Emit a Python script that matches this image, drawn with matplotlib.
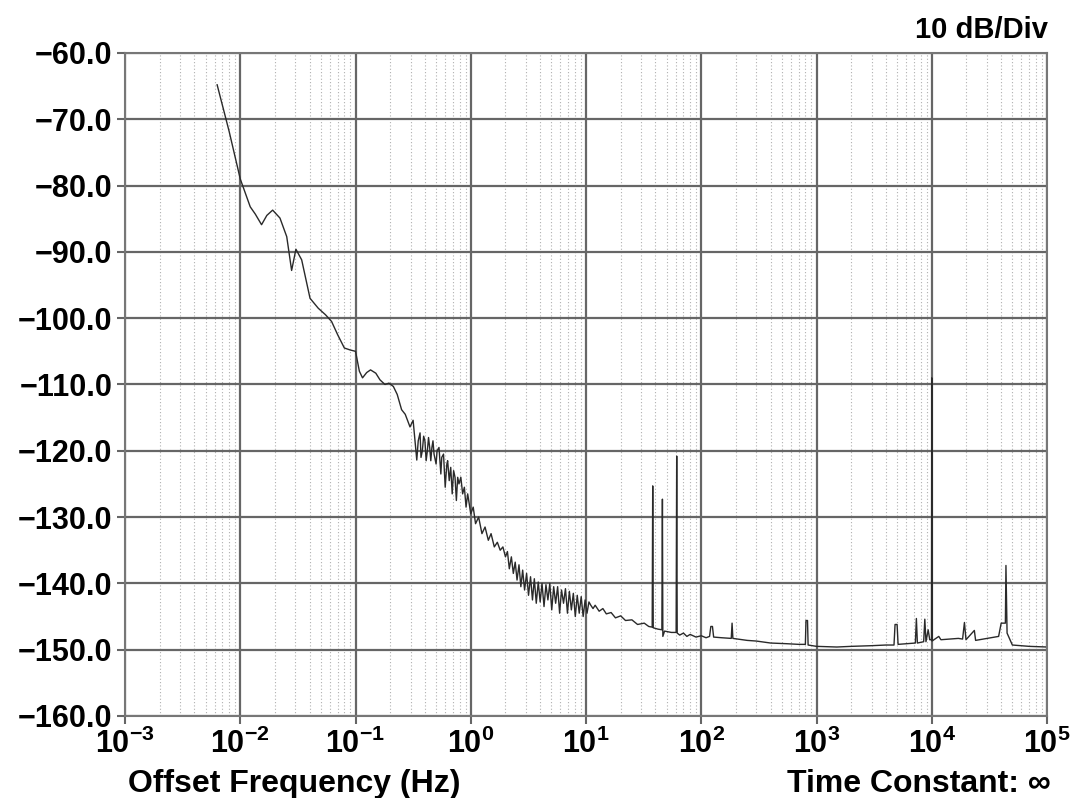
import matplotlib
matplotlib.use("Agg")
import matplotlib.pyplot as plt
from matplotlib.ticker import LogLocator, FixedLocator, FixedFormatter, NullFormatter

plt.rcParams['font.family'] = ['Liberation Sans', 'DejaVu Sans']
plt.rcParams['font.weight'] = 'bold'
plt.rcParams['mathtext.fontset'] = 'custom'
plt.rcParams['mathtext.rm'] = 'Liberation Sans:bold'
plt.rcParams['mathtext.it'] = 'Liberation Sans:bold'
plt.rcParams['mathtext.bf'] = 'Liberation Sans:bold'

# offset frequency (Hz) and phase noise level (dBc/Hz)
freq_hz = [
    0.0063, 0.0080, 0.0100, 0.0122, 0.0135, 0.0153, 0.0170, 0.0191, 0.0221, 0.0253,
    0.0279, 0.0304, 0.0341, 0.0403, 0.0475, 0.055, 0.062, 0.070, 0.080, 0.090,
    0.100, 0.108, 0.115, 0.125, 0.135, 0.150, 0.163, 0.180, 0.195, 0.213,
    0.230, 0.251, 0.270, 0.297, 0.316,
    0.34, 0.35, 0.363, 0.37, 0.38, 0.39, 0.40, 0.41, 0.42, 0.43,
    0.44, 0.45, 0.46, 0.47, 0.48, 0.50, 0.51, 0.53, 0.55, 0.56,
    0.58, 0.60, 0.62, 0.63, 0.65, 0.67, 0.69, 0.71, 0.73, 0.75,
    0.77, 0.79, 0.82, 0.85, 0.88, 0.91, 0.94, 0.97, 1.00, 1.05,
    1.10, 1.17, 1.25, 1.33, 1.42, 1.50, 1.60, 1.70, 1.80, 1.90,
    2.00, 2.08, 2.16, 2.25, 2.34, 2.43, 2.52, 2.62, 2.72, 2.82,
    2.93, 3.05, 3.17, 3.30, 3.43, 3.56, 3.70, 3.85, 4.00, 4.15,
    4.32, 4.49, 4.67, 4.85, 5.04, 5.24, 5.45, 5.67, 5.90, 6.13,
    6.38, 6.63, 6.90, 7.17, 7.46, 7.76, 8.07, 8.39, 8.73, 9.08,
    9.44, 9.82, 10.2, 10.6, 11.0, 11.5, 12.0, 13.0, 14.0, 15.0,
    16.5, 18.0, 20.0, 22.0, 25.0, 28.0, 32.0, 35.0, 37.5, 37.9,
    38.3, 42.0, 45.5, 46.0, 46.4, 48.0, 55.0, 60.5, 61.2, 61.8,
    65.0, 70.0, 75.0, 80.0, 90.0, 100.0, 110.0, 118.0, 121.0, 125.0,
    128.0, 150.0, 182.0, 185.0, 188.0, 250.0, 300.0, 400.0, 550.0, 700.0,
    800.0, 810.0, 835.0, 845.0, 1000.0, 1500.0, 2000.0, 3000.0, 4000.0, 4700.0,
    4800.0, 5000.0, 5100.0, 6000.0, 7200.0, 7350.0, 7500.0, 8500.0, 8700.0, 8900.0,
    9300.0, 9600.0, 9950.0, 10000.0, 10050.0, 11500.0, 12000.0, 17000.0, 18500.0, 19200.0,
    19800.0, 23400.0, 24000.0, 38000.0, 40000.0, 43500.0, 44000.0, 45000.0, 50000.0, 70000.0,
    100000.0,
]
level_dbc = [
    -64.8, -71.8, -79.0, -83.2, -84.3, -85.9, -84.5, -83.7, -84.9, -87.7,
    -92.8, -89.6, -91.2, -97.0, -98.5, -99.5, -100.5, -102.5, -104.5, -104.8,
    -105.0, -108.0, -109.0, -108.2, -107.8, -108.3, -109.3, -110.0, -109.8, -110.3,
    -111.5, -113.8, -114.5, -116.4, -115.4,
    -121.4, -118.5, -117.3, -121.0, -120.0, -117.8, -118.5, -121.5, -120.0, -118.0,
    -119.5, -121.5, -119.5, -118.5, -120.5, -122.0, -120.0, -119.5, -123.5, -121.0,
    -120.5, -125.5, -122.0, -121.5, -124.5, -122.5, -126.5, -123.0, -124.0, -127.5,
    -124.0, -125.0, -124.0, -126.5, -125.5, -128.5, -126.5, -128.0, -129.5, -128.5,
    -131.0, -130.0, -132.5, -131.5, -133.5, -132.5, -134.5, -133.8, -135.0, -134.5,
    -136.0, -135.2, -137.8, -136.0, -138.5, -136.8, -139.5, -137.2, -140.5, -138.0,
    -141.0, -138.5, -141.8, -139.0, -142.5, -139.3, -143.0, -139.8, -142.8, -140.0,
    -143.5, -140.2, -142.5, -140.0, -144.0, -140.5, -143.0, -140.5, -144.5, -141.0,
    -143.0, -140.8, -144.5, -141.2, -144.0, -141.5, -145.0, -141.8, -144.5, -142.0,
    -145.0, -142.5, -144.5, -142.8, -143.3, -143.8, -143.3, -144.2, -143.8, -144.6,
    -144.4, -145.2, -144.9, -145.6, -145.5, -146.2, -146.0, -146.5, -146.6, -125.3,
    -146.7, -146.9, -147.0, -127.3, -148.0, -147.2, -147.4, -147.4, -120.8, -147.5,
    -147.8, -147.5, -148.0, -147.7, -148.1, -147.9, -148.2, -148.0, -146.5, -146.5,
    -148.1, -148.2, -148.3, -146.0, -148.3, -148.6, -148.7, -149.0, -149.1, -149.2,
    -149.2, -145.6, -145.6, -149.3, -149.5, -149.6, -149.5, -149.4, -149.3, -149.3,
    -146.2, -146.2, -149.2, -149.1, -149.0, -145.3, -149.0, -148.8, -145.4, -148.8,
    -147.0, -148.5, -148.5, -109.0, -148.7, -148.0, -148.5, -148.3, -148.4, -145.9,
    -148.5, -147.1, -148.6, -148.0, -146.0, -146.0, -137.3, -147.5, -149.3, -149.5,
    -149.6,
]

y_ticks = [-60, -70, -80, -90, -100, -110, -120, -130, -140, -150, -160]
y_labels = ['\u2212%.1f' % abs(v) for v in y_ticks]
x_ticks = [1e-3, 1e-2, 1e-1, 1e0, 1e1, 1e2, 1e3, 1e4, 1e5]
x_labels = [r'$\mathrm{10^{%d}}$' % e for e in range(-3, 6)]

fig = plt.figure(figsize=(10.74, 7.98), dpi=100)
ax = fig.add_axes([0.1164, 0.1028, 0.8585, 0.8308])

ax.plot(freq_hz, level_dbc, color='#2a2a2a', lw=1.0)

ax.set_xscale('log')
ax.set_xlim(1e-3, 1e5)
ax.set_ylim(-160, -60)

ax.xaxis.set_major_locator(FixedLocator(x_ticks))
ax.xaxis.set_major_formatter(FixedFormatter(x_labels))
ax.xaxis.set_minor_locator(LogLocator(base=10, subs=range(2, 10), numticks=20))
ax.xaxis.set_minor_formatter(NullFormatter())
ax.yaxis.set_major_locator(FixedLocator(y_ticks))
ax.yaxis.set_major_formatter(FixedFormatter(y_labels))

ax.grid(which='major', color='#666666', lw=1.6)
ax.xaxis.grid(which='minor', color='#b0b0b0', lw=0.8, ls=(0, (1, 2)))
ax.set_axisbelow(True)

for s in ax.spines.values():
    s.set_color('#777777')
    s.set_linewidth(1.5)

ax.tick_params(which='major', direction='out', length=6, width=1.5, color='#666666',
               labelsize=22, pad=3)
ax.tick_params(which='minor', length=0)
for lab in ax.get_yticklabels():
    lab.set_fontweight('bold')

fig.text(0.9755, 0.963, '10 dB/Div', ha='right', va='center', fontsize=21, fontweight='bold')
fig.text(128 / 1074, 0.008, 'Offset Frequency (Hz)', ha='left', va='baseline',
         fontsize=23, fontweight='bold')
fig.text(0.978, 0.008, 'Time Constant: \u221e', ha='right', va='baseline',
         fontsize=23, fontweight='bold')

fig.savefig('out.png', dpi=100)
